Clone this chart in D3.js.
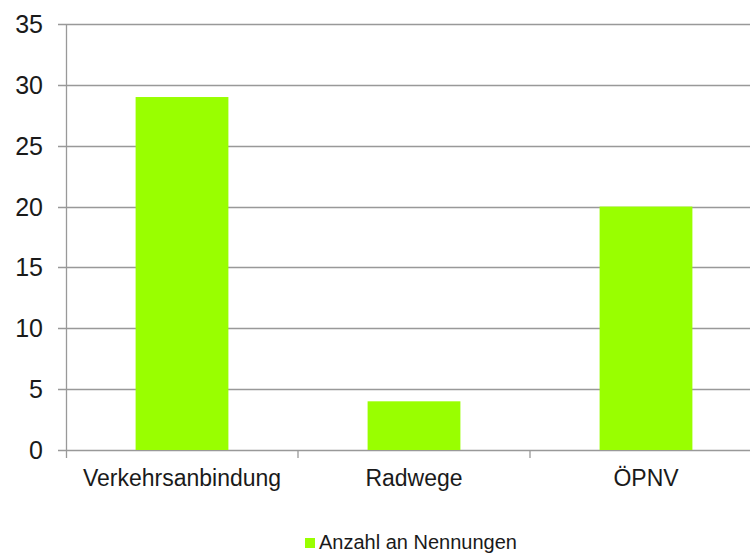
<!DOCTYPE html>
<html>
<head>
<meta charset="utf-8">
<script src="https://cdn.jsdelivr.net/npm/d3@7"></script>
<style>
  body { margin: 0; background: #fff; }
  svg { display: block; font-family: "Liberation Sans", Arial, sans-serif; }
</style>
</head>
<body>
<svg id="chart" width="750" height="554"></svg>
<script>
// data
var categories = ["Verkehrsanbindung", "Radwege", "ÖPNV"];
var values = [29, 4, 20];
var yTicks = [0, 5, 10, 15, 20, 25, 30, 35];
var seriesName = "Anzahl an Nennungen";

var barColor = "#99ff00";
var gridColor = "#999999";

var svg = d3.select("#chart");

// plot area (note: "top" is reserved on window, so use other names)
var plotLeft = 66, plotRight = 762, plotTop = 24, plotBottom = 450;

var x = d3.scaleBand()
  .domain(categories)
  .range([plotLeft, plotRight])
  .paddingInner(0.6)
  .paddingOuter(0.3);

var y = d3.scaleLinear()
  .domain([0, 35])
  .range([plotBottom, plotTop]);

// gridlines + y ticks
var yg = svg.append("g")
yg.selectAll("line")
  .data(yTicks)
  .enter()
  .append("line")
  .attr("x1", plotLeft - 8)
  .attr("x2", 750)
  .attr("y1", d => Math.round(y(d)) + 0.5)
  .attr("y2", d => Math.round(y(d)) + 0.5)
  .style("stroke", gridColor)
  .style("stroke-width", 1.3)

yg.selectAll("text")
  .data(yTicks)
  .enter()
  .append("text")
  .attr("x", 43)
  .attr("y", d => y(d))
  .attr("dy", "0.36em")
  .attr("text-anchor", "end")
  .style("font-size", "25px")
  .style("fill", "#1a1a1a")
  .text(d => d)

// bars
svg.append("g")
  .selectAll("rect")
  .data(values)
  .enter()
  .append("rect")
  .attr("x", (d, i) => x(categories[i]))
  .attr("width", x.bandwidth())
  .attr("y", d => y(d))
  .attr("height", d => y(0) - y(d))
  .style("fill", barColor)

// y axis line
svg.append("line")
  .attr("x1", plotLeft + 0.5).attr("x2", plotLeft + 0.5)
  .attr("y1", plotTop).attr("y2", plotBottom + 8)
  .style("stroke", gridColor)
  .style("stroke-width", 1.3)

// category separators
var step = x.step();
svg.append("g")
  .selectAll("line")
  .data(categories.slice(1))
  .enter()
  .append("line")
  .attr("x1", d => x(d) - x.paddingInner() * step / 2)
  .attr("x2", d => x(d) - x.paddingInner() * step / 2)
  .attr("y1", plotBottom)
  .attr("y2", plotBottom + 8)
  .style("stroke", gridColor)
  .style("stroke-width", 1.3)

// x labels
svg.append("g")
  .selectAll("text")
  .data(categories)
  .enter()
  .append("text")
  .attr("x", d => x(d) + x.bandwidth() / 2)
  .attr("y", 486)
  .attr("text-anchor", "middle")
  .style("font-size", "23px")
  .style("fill", "#1a1a1a")
  .text(d => d)

// legend
var legend = svg.append("g").attr("transform", "translate(305,538)")
legend.append("rect")
  .attr("width", 10)
  .attr("height", 10)
  .style("fill", barColor)
legend.append("text")
  .attr("x", 14)
  .attr("y", 11)
  .style("font-size", "20px")
  .style("fill", "#1a1a1a")
  .text(seriesName)
</script>
</body>
</html>
